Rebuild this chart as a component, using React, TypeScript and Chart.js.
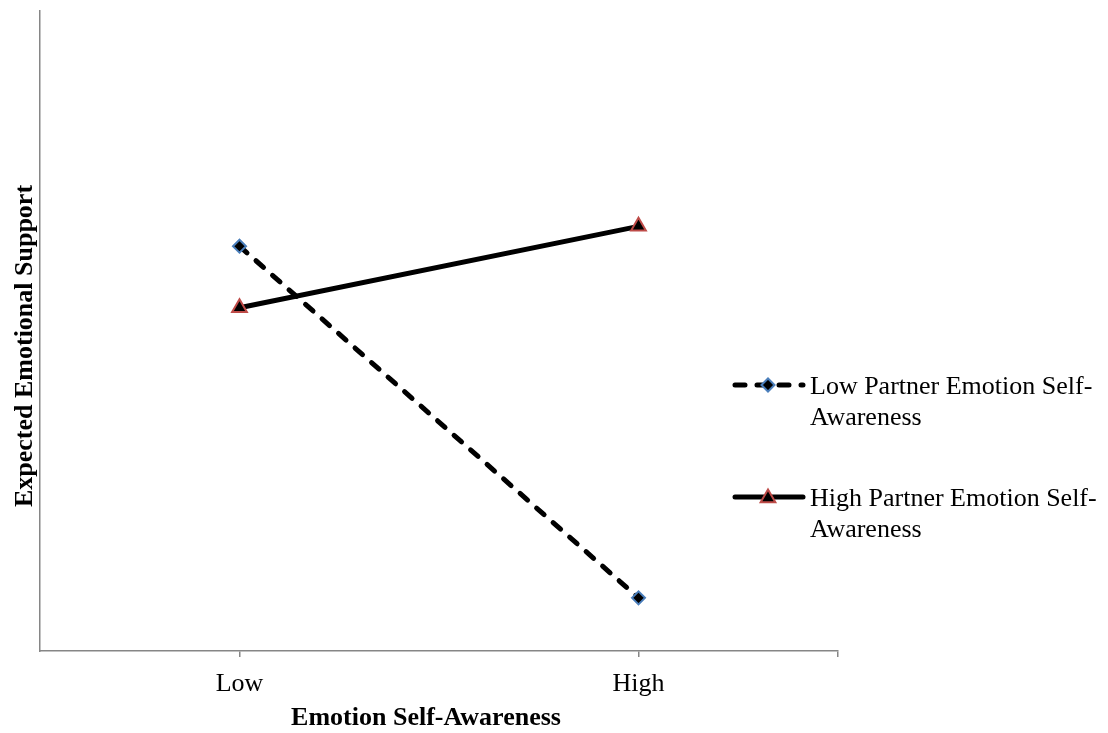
import { useEffect, useRef } from 'react';
import { Chart, registerables } from 'chart.js';

Chart.register(...registerables);

const categories = ['Low', 'High'];
const lowPartnerValues = [63.2, 8.3];
const highPartnerValues = [53.6, 66.3];
const seriesNames = ['Low Partner Emotion Self-Awareness', 'High Partner Emotion Self-Awareness'];
const legendLabelLines = [
  ['Low Partner Emotion Self-', 'Awareness'],
  ['High Partner Emotion Self-', 'Awareness'],
];
const xAxisTitle = 'Emotion Self-Awareness';
const yAxisTitle = 'Expected Emotional Support';

const FONT = '"Liberation Serif", "Times New Roman", Times, serif';
const AXIS_COLOR = '#868686';
const BLUE = '#4a7ebb';
const RED = '#be4b48';

function drawDiamond(ctx: CanvasRenderingContext2D, x: number, y: number, r: number) {
  ctx.beginPath();
  ctx.moveTo(x - r, y);
  ctx.lineTo(x, y - r);
  ctx.lineTo(x + r, y);
  ctx.lineTo(x, y + r);
  ctx.closePath();
  ctx.fillStyle = '#000';
  ctx.fill();
  ctx.strokeStyle = BLUE;
  ctx.lineWidth = 2;
  ctx.stroke();
}

function drawTriangle(ctx: CanvasRenderingContext2D, x: number, y: number, r: number) {
  ctx.beginPath();
  let rad = 0;
  const step = (2 * Math.PI) / 3;
  ctx.moveTo(x + Math.sin(rad) * r, y - Math.cos(rad) * r);
  rad += step;
  ctx.lineTo(x + Math.sin(rad) * r, y - Math.cos(rad) * r);
  rad += step;
  ctx.lineTo(x + Math.sin(rad) * r, y - Math.cos(rad) * r);
  ctx.closePath();
  ctx.fillStyle = '#000';
  ctx.fill();
  ctx.strokeStyle = RED;
  ctx.lineWidth = 2;
  ctx.stroke();
}

const textPlugin = {
  id: 'customTexts',
  afterDraw(chart: any) {
    const ctx: CanvasRenderingContext2D = chart.ctx;
    const area = chart.chartArea;
    ctx.save();
    ctx.fillStyle = '#000';
    ctx.font = `bold 26px ${FONT}`;
    ctx.textAlign = 'center';
    ctx.textBaseline = 'alphabetic';
    // x axis title
    ctx.fillText(xAxisTitle, area.left + 386, area.bottom + 74);
    // y axis title
    ctx.save();
    ctx.translate(area.left - 8, area.bottom - 305);
    ctx.rotate(-Math.PI / 2);
    ctx.fillText(yAxisTitle, 0, 0);
    ctx.restore();

    // legend
    const lx0 = area.right - 105;
    const lx1 = area.right - 35;
    const textX = area.right - 28;
    const rowY = [area.bottom - 266, area.bottom - 154];
    ctx.lineCap = 'round';
    // row 1: dashed
    ctx.save();
    ctx.strokeStyle = '#000';
    ctx.lineWidth = 5;
    ctx.setLineDash([10, 12]);
    ctx.beginPath();
    ctx.moveTo(lx0 + 2, rowY[0]);
    ctx.lineTo(lx1, rowY[0]);
    ctx.stroke();
    ctx.restore();
    drawDiamond(ctx, (lx0 + lx1) / 2, rowY[0], 6.5);
    // row 2: solid
    ctx.save();
    ctx.strokeStyle = '#000';
    ctx.lineWidth = 5;
    ctx.beginPath();
    ctx.moveTo(lx0 + 2, rowY[1]);
    ctx.lineTo(lx1, rowY[1]);
    ctx.stroke();
    ctx.restore();
    drawTriangle(ctx, (lx0 + lx1) / 2, rowY[1] + 1, 8.5);

    ctx.font = `26px ${FONT}`;
    ctx.textAlign = 'left';
    ctx.fillStyle = '#000';
    legendLabelLines.forEach((lines, i) => {
      lines.forEach((line, j) => {
        ctx.fillText(line, textX, rowY[i] + 9 + j * 31);
      });
    });
    ctx.restore();
  },
};

export default function App() {
  const canvasRef = useRef<HTMLCanvasElement | null>(null);

  useEffect(() => {
    if (!canvasRef.current) return;
    const toPoints = (vals: number[]) => vals.map((v, i) => ({ x: i + 0.5, y: v }));
    const chart = new Chart(canvasRef.current, {
      type: 'line',
      data: {
        datasets: [
          {
            label: seriesNames[0],
            data: toPoints(lowPartnerValues),
            borderColor: '#000',
            borderWidth: 5,
            borderDash: [10, 12],
            borderCapStyle: 'round',
            pointStyle: 'rectRot',
            pointRadius: 6.5,
            pointBorderWidth: 2,
            pointBackgroundColor: '#000',
            pointBorderColor: BLUE,
            tension: 0,
            order: 1,
          },
          {
            label: seriesNames[1],
            data: toPoints(highPartnerValues),
            borderColor: '#000',
            borderWidth: 5,
            borderCapStyle: 'round',
            pointStyle: 'triangle',
            pointRadius: 8.5,
            pointBorderWidth: 2,
            pointBackgroundColor: '#000',
            pointBorderColor: RED,
            tension: 0,
            order: 0,
          },
        ],
      },
      options: {
        responsive: false,
        animation: false,
        events: [],
        layout: { padding: { top: 2, right: 270, left: 0, bottom: 0 } },
        plugins: {
          legend: { display: false },
          tooltip: { enabled: false },
        },
        scales: {
          x: {
            type: 'linear',
            min: 0,
            max: categories.length,
            afterBuildTicks: (s: any) => {
              s.ticks = [...categories.map((_, i) => ({ value: i + 0.5 })), { value: categories.length }];
            },
            afterFit: (s: any) => {
              s.height = 82;
            },
            ticks: {
              autoSkip: false,
              maxRotation: 0,
              padding: 12,
              color: '#000',
              font: { family: FONT, size: 26 },
              callback: (v: any) => {
                const i = Number(v) - 0.5;
                return Number.isInteger(i) && categories[i] !== undefined ? categories[i] : '';
              },
            },
            grid: { drawOnChartArea: false, drawTicks: true, tickLength: 6, color: AXIS_COLOR, lineWidth: 1.5 },
            border: { display: true, color: AXIS_COLOR, width: 1.5 },
          },
          y: {
            min: 0,
            max: 100,
            afterFit: (s: any) => {
              s.width = 40;
            },
            ticks: { display: false },
            grid: { display: false },
            border: { display: true, color: AXIS_COLOR, width: 1.5 },
          },
        },
      },
      plugins: [textPlugin],
    });
    return () => chart.destroy();
  }, []);

  return (
    <div style={{ position: 'absolute', left: 0, top: 0, width: 1108, height: 733, background: '#fff' }}>
      <canvas ref={canvasRef} width={1108} height={733} />
    </div>
  );
}
